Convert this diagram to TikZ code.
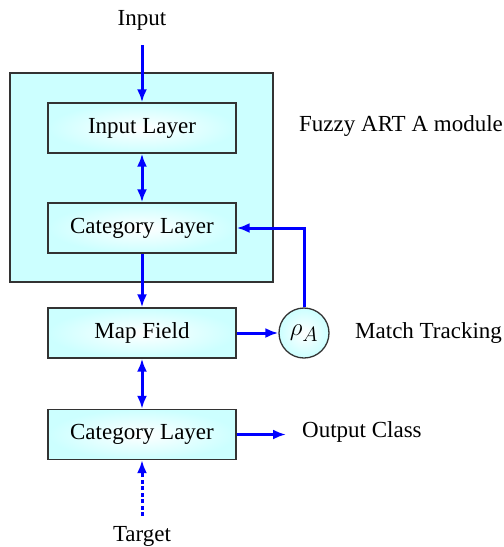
\documentclass[tikz,border=0pt]{standalone}
\usepackage{fontspec}
\setmainfont{Liberation Serif}
\usetikzlibrary{arrows.meta}

\definecolor{artcyan}{HTML}{CCFFFF}
\definecolor{framegray}{HTML}{333333}

\tikzset{
  modulebox/.style={draw=framegray, line width=1.3pt, fill=artcyan,
    minimum width=263pt, minimum height=209pt, inner sep=0pt},
  layerbox/.style={draw=framegray, line width=1.3pt, inner color=white,
    outer color=artcyan, minimum width=188pt, minimum height=50pt, inner sep=0pt},
  rhonode/.style={circle, draw=framegray, line width=1.3pt, inner color=white,
    outer color=artcyan, minimum size=50pt, inner sep=0pt,
    font=\fontsize{29}{32}\selectfont},
  sidelabel/.style={anchor=west, inner sep=0pt},
  flow/.style={blue, line width=3pt, -{Latex[length=13pt,width=10pt]}},
  dflow/.style={blue, line width=3pt, {Latex[length=13pt,width=10pt]}-{Latex[length=13pt,width=10pt]}},
  dotflow/.style={flow, dash pattern=on 4pt off 2.5pt},
}

\begin{document}
\begin{tikzpicture}[x=1pt, y=-1pt, font=\fontsize{23}{27}\selectfont]
\useasboundingbox (0,0) rectangle (504,547);

% Fuzzy ART A module
\node[modulebox] (artA) at (141.5,177.5) {};
\node[layerbox] (inlayer) at (142,128) {Input Layer};
\node[layerbox] (catA) at (142,228) {Category Layer};

% map field and output side
\node[layerbox] (mapfield) at (142,333) {Map Field};
\node[layerbox] (catB) at (142,434.5) {Category Layer};
\node[rhonode] (rho) at (304,333) {$\rho_A$};

% texts
\node (input) at (142,20) {Input};
\node (target) at (142,536) {Target};
\node[sidelabel] (fuzzy) at (299,126) {Fuzzy ART A module};
\node[sidelabel] (match) at (355,333) {Match Tracking};
\node[sidelabel] (outcls) at (302,432) {Output Class};

\coordinate (instart) at (142,45);
\coordinate (outend) at (286,434.5);
\coordinate (tgtstart) at (142,516);

% connectors
\draw[flow] (instart) -- (inlayer.north);
\draw[dflow] (inlayer) -- (catA);
\draw[flow] (catA) -- (mapfield);
\draw[dflow] (mapfield) -- (catB);
\draw[flow] (mapfield.east) -- (rho.west);
\draw[flow] (rho.north) |- (catA.east);
\draw[flow] (catB.east) -- (outend);
\draw[dotflow] (tgtstart) -- (catB.south);
\end{tikzpicture}
\end{document}
